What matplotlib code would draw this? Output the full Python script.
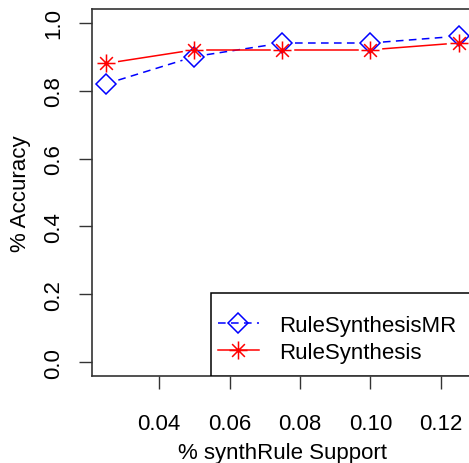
import matplotlib
matplotlib.use("Agg")
import matplotlib.pyplot as plt
import numpy as np
from matplotlib.path import Path
from matplotlib.patches import Rectangle
from matplotlib.lines import Line2D

support = [0.025, 0.05, 0.075, 0.10, 0.125]
acc_mr = [0.82, 0.90, 0.94, 0.94, 0.96]
acc_rs = [0.88, 0.92, 0.92, 0.92, 0.94]
labels = ["RuleSynthesisMR", "RuleSynthesis"]
xticks = [0.04, 0.06, 0.08, 0.10, 0.12]
yticks = [0.0, 0.2, 0.4, 0.6, 0.8, 1.0]

plt.rcParams['font.family'] = ['Liberation Sans', 'DejaVu Sans']
FS = 16

# R pch=8 star: + overlaid with x
star = Path([(-1, 0), (1, 0), (0, -1), (0, 1),
             (-0.7071, -0.7071), (0.7071, 0.7071), (-0.7071, 0.7071), (0.7071, -0.7071)],
            [Path.MOVETO, Path.LINETO, Path.MOVETO, Path.LINETO,
             Path.MOVETO, Path.LINETO, Path.MOVETO, Path.LINETO])

W, H = 469, 464
fig = plt.figure(figsize=(W / 100, H / 100), dpi=100)
ax = fig.add_axes([92.3 / W, 87 / H, 380.3 / W, 367 / H])
ax.set_xlim(0.021, 0.129)
ax.set_ylim(-0.04, 1.04)

GAP = 12.5  # px gap around points (R type="b")


def gapped_line(xs, ys, **kw):
    pts = ax.transData.transform(np.column_stack([xs, ys]))
    for p, q in zip(pts[:-1], pts[1:]):
        d = q - p
        L = np.hypot(*d)
        if L <= 2 * GAP:
            continue
        u = d / L
        a, b = p + u * GAP, q - u * GAP
        ax.add_line(Line2D([a[0], b[0]], [a[1], b[1]], transform=None, **kw))


mr_style = dict(color='blue', linestyle=(0, (5, 3.5)), linewidth=1.1)
rs_style = dict(color='red', linestyle='-', linewidth=1.1)
mr_mk = dict(marker='D', markersize=10, markerfacecolor='none', markeredgecolor='blue',
             markeredgewidth=1.1)
rs_mk = dict(marker=star, markersize=13, markerfacecolor='none', markeredgecolor='red',
             markeredgewidth=1.1)

gapped_line(support, acc_mr, **mr_style)
gapped_line(support, acc_rs, **rs_style)
ax.plot(support, acc_mr, linestyle='none', **mr_mk)
ax.plot(support, acc_rs, linestyle='none', **rs_mk)

ax.set_xticks(xticks)
ax.set_xticklabels(["%.2f" % v for v in xticks])
ax.set_yticks(yticks)
ax.set_yticklabels(["%.1f" % v for v in yticks], rotation=90, va='center')
ax.tick_params(axis='both', direction='out', length=9.5, width=1, labelsize=FS, color='#333333')
ax.tick_params(axis='x', pad=17)
ax.tick_params(axis='y', pad=10.5)
for s in ax.spines.values():
    s.set_linewidth(1.2)
    s.set_color('#333333')
ax.set_xlabel("% synthRule Support", fontsize=FS, labelpad=6)
ax.set_ylabel("% Accuracy", fontsize=FS, labelpad=9)

h1 = Line2D([], [], **mr_style, **mr_mk)
h2 = Line2D([], [], **rs_style, **rs_mk)

ax.add_patch(Rectangle((0.312, 0.0), 0.688, 0.226, transform=ax.transAxes,
                       facecolor='white', edgecolor='black', linewidth=1.1, zorder=5))
leg = ax.legend(handles=[h1, h2], labels=labels, loc='center left',
                bbox_to_anchor=(0.312, 0.101),
                frameon=False, fontsize=FS, handlelength=1.85, handletextpad=0.9,
                labelspacing=0.28, borderpad=0.0, borderaxespad=0.3)
leg.set_zorder(6)

fig.savefig("out.png", dpi=100)
